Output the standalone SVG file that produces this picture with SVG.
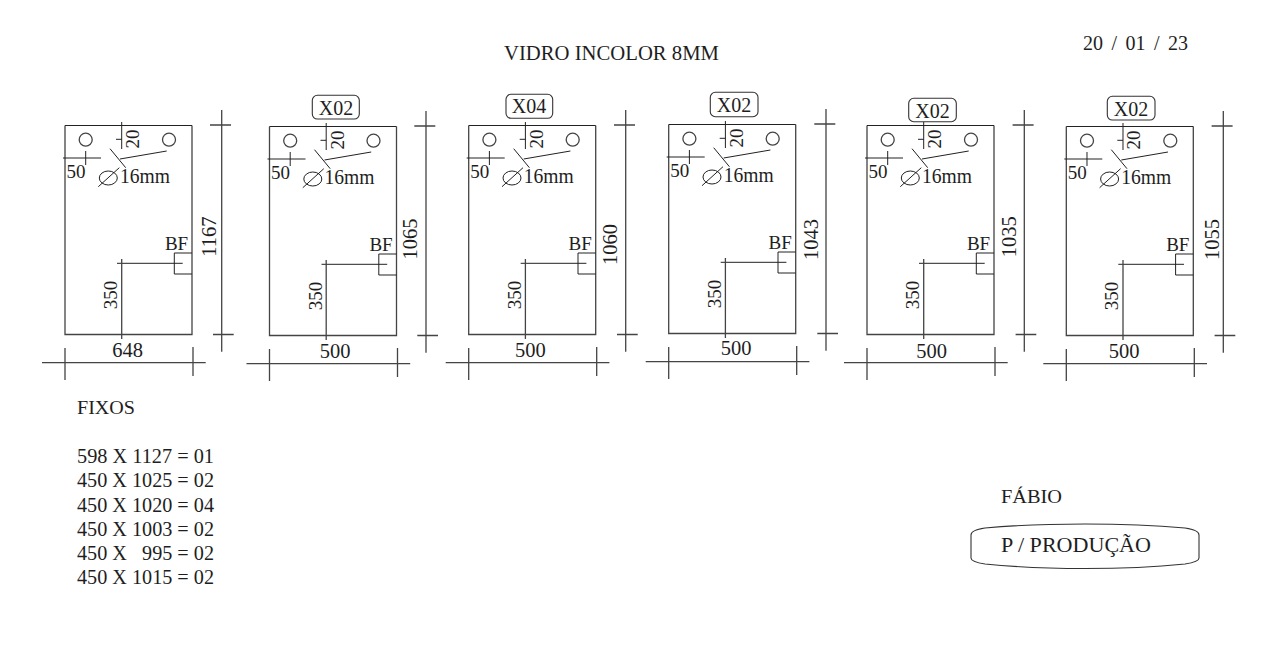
<svg xmlns="http://www.w3.org/2000/svg" width="1280" height="650" viewBox="0 0 1280 650">
<style>
text{font-family:"Liberation Serif","DejaVu Serif",serif;fill:#1e1e1e}
.l{fill:none;stroke:#444;stroke-width:1.3}
.d{fill:none;stroke:#222;stroke-width:1}
.t{font-size:20px}
.s{font-size:19px}
.n{font-size:20px}
.h{font-size:20.500px}
.m{text-anchor:middle}
.r{fill:none;stroke:#333;stroke-width:1.100}
</style>
<defs>
<g id="base">
<path class="l" d="M65 125.500V334.500H192V125.500"/>
<path class="d" d="M65 125.500H192"/>
<circle class="l" cx="85.700" cy="139.700" r="6.500"/>
<circle class="l" cx="169" cy="139.700" r="6.500"/>
<path class="d" d="M121.700 122V149M116 139.300H121.700M63 158H101M85.700 151V165M110 148.700L125.700 167.700M120 159L166.700 151M98.300 186.700L119.300 167.700"/>
<ellipse class="d" cx="108.300" cy="178" rx="9" ry="7"/>
<path class="d" d="M192 253H174.300V274H192M117 263.300H182.700"/>
<path class="l" d="M121.700 259V339"/>
<path class="l" d="M42 362.700H205.700M65 348V380M193 347V376"/>
</g>
<path id="vdim" class="l" d="M0 110V351.700M-11.700 125H9.300M-8.700 334.500H12"/>
</defs>
<text x="504" y="60" class="t" textLength="215" lengthAdjust="spacingAndGlyphs">VIDRO INCOLOR 8MM</text>
<text x="1083" y="50" class="t" textLength="105" lengthAdjust="spacing" word-spacing="3.500">20 / 01 / 23</text>

<g id="panel-1">
<use href="#base"/><use href="#vdim" x="221.700"/>
<text x="76" y="178" class="s m">50</text><text x="145" y="182.700" class="n m" textLength="50" lengthAdjust="spacingAndGlyphs">16mm</text><text x="176.500" y="250" class="s m">BF</text>
<text x="139" y="139" class="s m" transform="rotate(-90 139 139)">20</text>
<text x="117" y="295" class="s m" transform="rotate(-90 117 295)">350</text>
<text x="216" y="236.500" class="h m" transform="rotate(-90 216 236.500)">1167</text>
<text x="127.500" y="356.700" class="h m">648</text>
</g>

<g id="panel-2">
<g transform="translate(204.500 1)"><use href="#base"/>
<text x="76" y="178" class="s m">50</text><text x="145" y="182.700" class="n m" textLength="50" lengthAdjust="spacingAndGlyphs">16mm</text><text x="176.500" y="250" class="s m">BF</text>
<text x="139" y="139" class="s m" transform="rotate(-90 139 139)">20</text>
<text x="117" y="295" class="s m" transform="rotate(-90 117 295)">350</text>
</g>
<use href="#vdim" x="426" y="1"/>
<rect class="r" x="312.300" y="95.300" width="47" height="23.700" rx="5"/>
<text x="336" y="115" class="t m">X02</text>
<text x="416.700" y="239" class="h m" transform="rotate(-90 416.700 239)">1065</text>
<text x="335" y="358" class="h m">500</text>
</g>

<g id="panel-3">
<g transform="translate(403.700 0)"><use href="#base"/>
<text x="76" y="178" class="s m">50</text><text x="145" y="182.700" class="n m" textLength="50" lengthAdjust="spacingAndGlyphs">16mm</text><text x="176.500" y="250" class="s m">BF</text>
<text x="139" y="139" class="s m" transform="rotate(-90 139 139)">20</text>
<text x="117" y="295" class="s m" transform="rotate(-90 117 295)">350</text>
</g>
<use href="#vdim" x="625.700"/>
<rect class="r" x="506" y="94.300" width="46.700" height="24" rx="5"/>
<text x="529" y="113.300" class="t m">X04</text>
<text x="616.700" y="244.500" class="h m" transform="rotate(-90 616.700 244.500)">1060</text>
<text x="530.300" y="356.700" class="h m">500</text>
</g>

<g id="panel-4">
<g transform="translate(603.700 -1)"><use href="#base"/>
<text x="76" y="178" class="s m">50</text><text x="145" y="182.700" class="n m" textLength="50" lengthAdjust="spacingAndGlyphs">16mm</text><text x="176.500" y="250" class="s m">BF</text>
<text x="139" y="139" class="s m" transform="rotate(-90 139 139)">20</text>
<text x="117" y="295" class="s m" transform="rotate(-90 117 295)">350</text>
</g>
<use href="#vdim" x="826" y="-1"/>
<rect class="r" x="710.300" y="92.300" width="47.700" height="24.400" rx="5"/>
<text x="734" y="111.700" class="t m">X02</text>
<text x="818.300" y="239.500" class="h m" transform="rotate(-90 818.300 239.500)">1043</text>
<text x="736" y="355" class="h m">500</text>
</g>

<g id="panel-5">
<g transform="translate(802 0)"><use href="#base"/>
<text x="76" y="178" class="s m">50</text><text x="145" y="182.700" class="n m" textLength="50" lengthAdjust="spacingAndGlyphs">16mm</text><text x="176.500" y="250" class="s m">BF</text>
<text x="139" y="139" class="s m" transform="rotate(-90 139 139)">20</text>
<text x="117" y="295" class="s m" transform="rotate(-90 117 295)">350</text>
</g>
<use href="#vdim" x="1024.300"/>
<rect class="r" x="908.700" y="98.300" width="47.600" height="23.400" rx="5"/>
<text x="932.500" y="117.700" class="t m">X02</text>
<text x="1015.700" y="236.700" class="h m" transform="rotate(-90 1015.700 236.700)">1035</text>
<text x="931.700" y="358.300" class="h m">500</text>
</g>

<g id="panel-6">
<g transform="translate(1001.300 1)"><use href="#base"/>
<text x="76" y="178" class="s m">50</text><text x="145" y="182.700" class="n m" textLength="50" lengthAdjust="spacingAndGlyphs">16mm</text><text x="176.500" y="250" class="s m">BF</text>
<text x="139" y="139" class="s m" transform="rotate(-90 139 139)">20</text>
<text x="117" y="295" class="s m" transform="rotate(-90 117 295)">350</text>
</g>
<use href="#vdim" x="1223.300" y="1"/>
<rect class="r" x="1107.300" y="96.300" width="47.700" height="23.700" rx="5"/>
<text x="1131" y="115.700" class="t m">X02</text>
<text x="1219" y="239.500" class="h m" transform="rotate(-90 1219 239.500)">1055</text>
<text x="1124" y="358.300" class="h m">500</text>
</g>

<g id="fixos">
<text x="77" y="414" class="s" textLength="58" lengthAdjust="spacingAndGlyphs">FIXOS</text>
<text x="77" y="463" class="n" textLength="137" lengthAdjust="spacingAndGlyphs">598 X 1127 = 01</text>
<text x="77" y="487" class="n" textLength="137" lengthAdjust="spacingAndGlyphs">450 X 1025 = 02</text>
<text x="77" y="511.500" class="n" textLength="137" lengthAdjust="spacingAndGlyphs">450 X 1020 = 04</text>
<text x="77" y="536" class="n" textLength="137" lengthAdjust="spacingAndGlyphs">450 X 1003 = 02</text>
<text x="77" y="560" class="n" textLength="137" lengthAdjust="spacingAndGlyphs" style="white-space:pre">450 X   995 = 02</text>
<text x="77" y="584" class="n" textLength="137" lengthAdjust="spacingAndGlyphs">450 X 1015 = 02</text>
</g>

<g id="fabio">
<text x="1001" y="503" class="s" textLength="61" lengthAdjust="spacingAndGlyphs">FÁBIO</text>
</g>
<g id="producao">
<path class="r" d="M971 535Q971 530 985 528Q1030 524 1085 524Q1140 524 1185 528Q1199 530 1199 535V558Q1199 562 1185 564Q1140 568.500 1085 568.500Q1030 568.500 985 564Q971 562 971 558Z"/>
<text x="1001" y="552" class="t" textLength="150" lengthAdjust="spacingAndGlyphs">P / PRODUÇÃO</text>
</g>
</svg>
